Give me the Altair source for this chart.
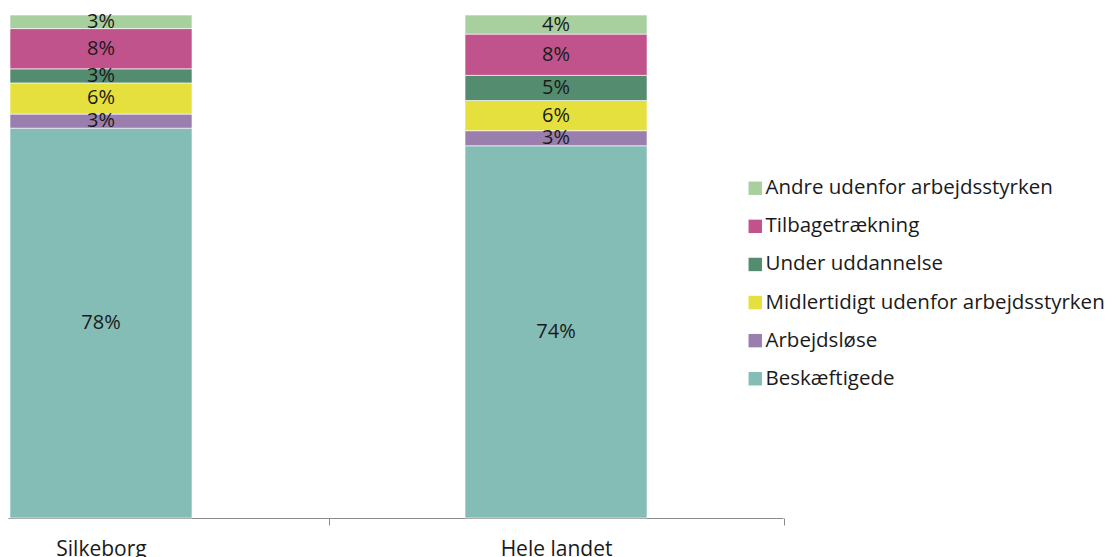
import altair as alt
import pandas as pd

regions = ["Silkeborg", "Hele landet"]
categories = [
    "Beskæftigede",
    "Arbejdsløse",
    "Midlertidigt udenfor arbejdsstyrken",
    "Under uddannelse",
    "Tilbagetrækning",
    "Andre udenfor arbejdsstyrken",
]
silkeborg = [77.5, 2.8, 6.2, 2.8, 8.0, 2.7]
hele_landet = [74.0, 3.0, 6.0, 5.0, 8.2, 3.8]
colors = ["#84bcb6", "#9a7fae", "#e6e03e", "#548c70", "#c0538c", "#a8d09e"]

rows = []
for r, vals in zip(regions, [silkeborg, hele_landet]):
    for i, (c, v) in enumerate(zip(categories, vals)):
        rows.append({"region": r, "category": c, "order": i, "value": v})
df = pd.DataFrame(rows)

FONT = "Open Sans"
FS = 20
FS_LEG = 20.5
legend_order = list(reversed(categories))
legend_colors = list(reversed(colors))

x_enc = alt.X(
    "region:N",
    sort=regions,
    scale=alt.Scale(paddingInner=0.6, paddingOuter=0.1516, align=0.0145),
    axis=alt.Axis(
        title=None,
        labelAngle=0,
        labelFont=FONT,
        labelFontSize=21,
        labelColor="#1a1a1a",
        labelPadding=13,
        tickOffset=227.5,
        labelOffset=-227.5,
        tickSize=7,
        tickColor="#8a8a8a",
        domainColor="#8a8a8a",
        domainWidth=1,
        tickWidth=1,
        grid=False,
    ),
)

base = alt.Chart(df).transform_stack(
    stack="value",
    groupby=["region"],
    sort=[alt.SortField("order", order="ascending")],
    as_=["y0", "y1"],
    offset="normalize",
).transform_calculate(
    mid="(datum.y0 + datum.y1) / 2",
    pct="format(datum.value, '.0f') + '%'",
)

bars = base.mark_bar(stroke="#ffffff", strokeWidth=0.6).encode(
    x=x_enc,
    y=alt.Y("y0:Q", scale=alt.Scale(domain=[0, 1], nice=False), axis=None),
    y2="y1:Q",
    color=alt.Color(
        "category:N",
        scale=alt.Scale(domain=legend_order, range=legend_colors),
        legend=alt.Legend(
            title=None,
            orient="none",
            legendX=737,
            legendY=163,
            padding=0,
            symbolType="square",
            symbolSize=180,
            symbolStrokeWidth=0,
            labelFont=FONT,
            labelFontSize=FS_LEG,
            labelColor="#1a1a1a",
            labelOffset=0,
            rowPadding=17.1,
            labelLimit=500,
        ),
    ),
)

labels = base.mark_text(font=FONT, fontSize=FS, color="#1a1a1a").encode(
    x=alt.X("region:N", sort=regions),
    y=alt.Y("mid:Q"),
    text="pct:N",
)

chart = (
    alt.layer(bars, labels)
    .properties(
        width=775,
        height=503,
        padding={"top": 3, "left": 0, "right": 0, "bottom": 0},
    )
    .configure(font=FONT)
    .configure_view(strokeWidth=0, stroke="transparent")
)

chart.save("out.html", embed_options={"renderer": "svg", "actions": False})
